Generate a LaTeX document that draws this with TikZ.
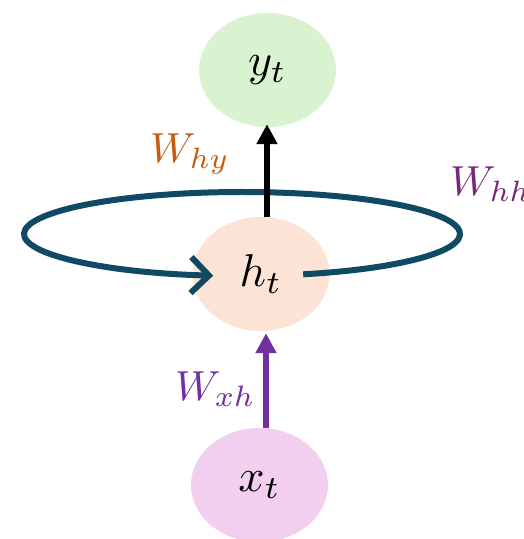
\documentclass[tikz,border=0pt]{standalone}
\usepackage{graphicx}
\usetikzlibrary{arrows.meta,shapes.geometric,calc}
\definecolor{ygreen}{RGB}{217,242,208}
\definecolor{hpeach}{RGB}{251,227,214}
\definecolor{xpink}{RGB}{242,206,239}
\definecolor{loopcol}{RGB}{16,73,99}
\definecolor{worange}{RGB}{197,90,17}
\definecolor{wpurple}{RGB}{112,48,160}
\definecolor{whh}{RGB}{120,40,120}
\newcommand{\bigtxt}[2]{\scalebox{#1}{$#2$}}
\begin{document}
\begin{tikzpicture}[x=1pt,y=-1pt,
  state/.style={ellipse, minimum width=137pt, minimum height=114pt, inner sep=0pt},
  wlabel/.style={anchor=base west, inner sep=0pt},
  conn/.style={line width=6.5pt, -{Triangle[length=20pt,width=20pt]}},
]
\useasboundingbox (0,0) rectangle (524,539);
\node[state, fill=ygreen] (y) at (267.5,70) {\bigtxt{4.6}{y_t}};
\node[state, fill=hpeach] (h) at (261,274) {\bigtxt{4.6}{h_t}};
\node[state, fill=xpink] (x) at (259.5,485) {\bigtxt{4.6}{x_t}};
\coordinate (loopc) at (242,234);
\draw[loopcol, line width=6pt, -{Straight Barb[length=18pt,width=36pt]}]
  (loopc) ++(73.7:218 and 42) arc[start angle=73.7, end angle=-262.4, x radius=218, y radius=42];
\draw[conn, black] ([xshift=6pt]h.north) -- ([xshift=6pt,yshift=3pt]h.north |- y.south);
\draw[conn, wpurple] ([xshift=6.5pt]x.north) -- ([xshift=6.5pt,yshift=-2pt]x.north |- h.south);
\node[wlabel, text=worange] (why) at (150,162) {\bigtxt{4.2}{W_{hy}}};
\node[wlabel, text=wpurple] (wxh) at (175,400) {\bigtxt{4.2}{W_{xh}}};
\node[wlabel, text=whh] (whh) at (450,195) {\bigtxt{4.2}{W_{hh}}};
\end{tikzpicture}
\end{document}
